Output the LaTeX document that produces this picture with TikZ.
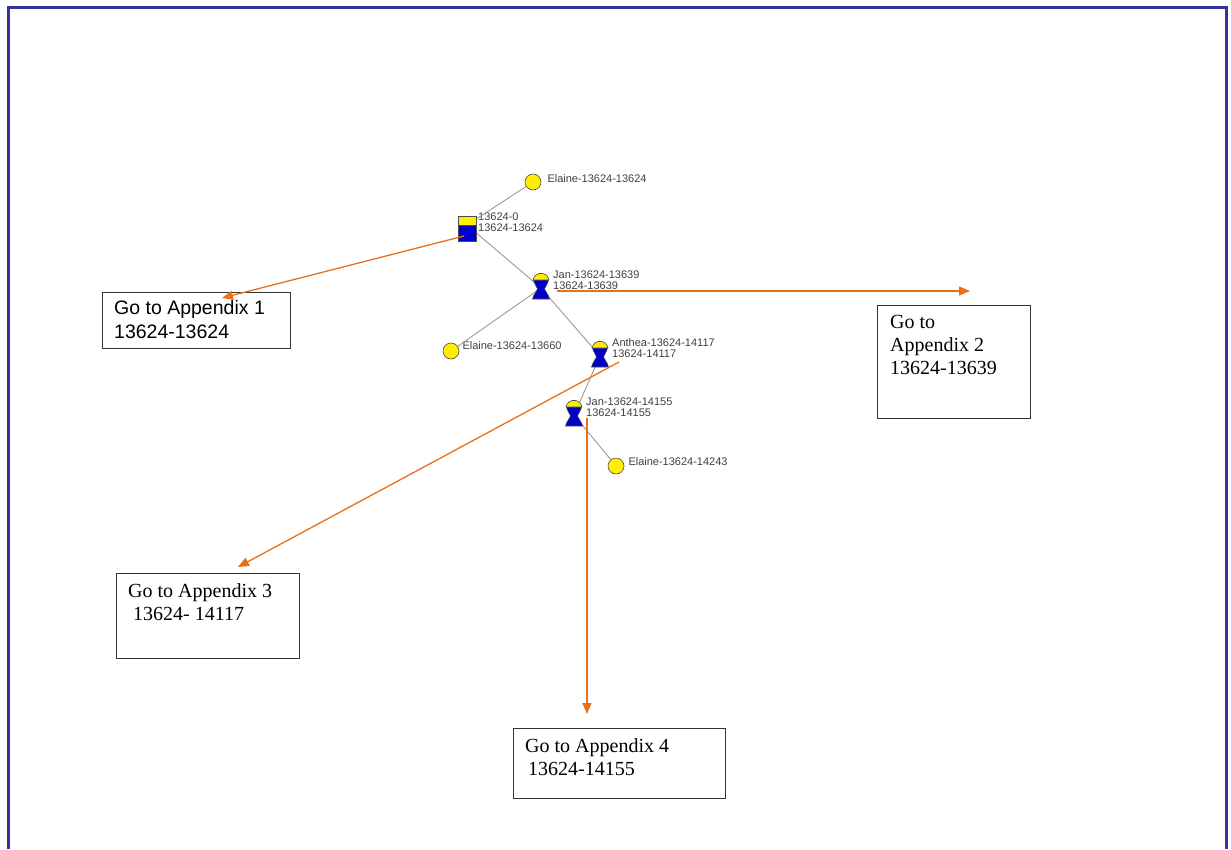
\documentclass[tikz,border=0pt]{standalone}
\usepackage{fontspec}
\setmainfont{Liberation Serif}
\setsansfont{Liberation Sans}
\usetikzlibrary{positioning}
\usetikzlibrary{arrows.meta}

\definecolor{framebl}{RGB}{51,51,153}
\definecolor{linkor}{RGB}{232,112,26}
\definecolor{icony}{RGB}{255,238,0}
\definecolor{iconb}{RGB}{0,0,200}

\begin{document}
\begin{tikzpicture}[x=1pt, y=-1pt,
    person/.style={circle, draw=black!70, fill=icony, line width=0.6pt, minimum size=16pt, inner sep=0pt},
    tag/.style={font=\sffamily\fontsize{11}{11}\selectfont, text=black!75, align=left, inner sep=0pt, anchor=west},
    link/.style={draw=black!40, line width=0.9pt},
    jump/.style={draw=linkor, line width=1.3pt, -{Triangle[length=11pt, width=9pt]}},
    appbox/.style={draw=black!80, line width=1.2pt, inner sep=0pt, anchor=north west},
    apptext/.style={align=left, inner sep=0pt},
    member/.pic={
      \filldraw[fill=iconb, draw=black!70, line width=0.6pt] (-7.5,-9) -- (7.5,-9) -- (7,-6) -- (3.5,1) -- (7.5,8) -- (8.5,11) -- (-8.5,11) -- (-7.5,8) -- (-3.5,1) -- (-7,-6) -- cycle;
      \filldraw[fill=icony, draw=black!70, line width=0.6pt] (-8,-8) arc (190:350:8.1) -- cycle;
    },
    origin/.pic={
      \filldraw[fill=icony, draw=black!70, line width=0.6pt] (-9,-9) rectangle (9,0);
      \filldraw[fill=iconb, draw=black!70, line width=0.6pt] (-9,0) rectangle (9,16);
    }]
    \useasboundingbox (0,0) rectangle (1231,849);
    \draw[framebl, line width=3pt] (8.5,849) -- (8.5,7.5) -- (1226.5,7.5) -- (1226.5,849);

    \coordinate (root) at (467,225);
    \coordinate (jan1) at (541,288);
    \coordinate (anthea) at (600,356);
    \coordinate (jan2) at (574,415);

    \node[person] (elaine1) at (533,182) {};
    \node[person] (elaine2) at (451,351) {};
    \node[person] (elaine3) at (616,466) {};

    \node[tag, right=6pt of elaine1, yshift=3pt] (elaine1tag) {Elaine-13624-13624};
    \node[tag] (roottag) at (478,222) {13624-0\\13624-13624};
    \node[tag] (jan1tag) at (553,280) {Jan-13624-13639\\13624-13639};
    \node[tag, right=3pt of elaine2, yshift=5pt] (elaine2tag) {Elaine-13624-13660};
    \node[tag] (antheatag) at (612,348) {Anthea-13624-14117\\13624-14117};
    \node[tag] (jan2tag) at (586,407) {Jan-13624-14155\\13624-14155};
    \node[tag, right=4pt of elaine3, yshift=4pt] (elaine3tag) {Elaine-13624-14243};

    \node[appbox, minimum width=188pt, minimum height=56pt] (box1) at (102,292) {};
    \node[appbox, minimum width=153pt, minimum height=113pt] (box2) at (877,305) {};
    \node[appbox, minimum width=183pt, minimum height=85pt] (box3) at (116,573) {};
    \node[appbox, minimum width=212pt, minimum height=70pt] (box4) at (513,728) {};

    \node[apptext, font=\sffamily\fontsize{19.5}{24}\selectfont, below right=8pt and 12pt of box1.north west] (box1text) {Go to Appendix 1\\13624-13624};
    \node[apptext, font=\fontsize{20}{23}\selectfont, below right=10pt and 13pt of box2.north west] (box2text) {Go to\\Appendix 2\\13624-13639};
    \node[apptext, font=\fontsize{20}{23}\selectfont, below right=10pt and 12pt of box3.north west] (box3text) {Go to Appendix 3\\\hspace*{5pt}13624- 14117};
    \node[apptext, font=\fontsize{20}{23}\selectfont, below right=10pt and 12pt of box4.north west] (box4text) {Go to Appendix 4\\\hspace*{3pt}13624-14155};

    \coordinate (rootout) at (464,236);
    \coordinate (jan1out) at (557,291);
    \coordinate (antheaout) at (619,362);
    \coordinate (jan2out) at (587,418);
    \coordinate (app1) at (222,298);
    \coordinate (app2) at (970,291);
    \coordinate (app3) at (238,567);
    \coordinate (app4) at (587,714);

    \draw[link] (elaine1) -- (root);
    \draw[link] (root) -- (jan1);
    \draw[link] (jan1) -- (elaine2);
    \draw[link] (jan1) -- (anthea);
    \draw[link] (anthea) -- (jan2);
    \draw[link] (jan2) -- (elaine3);

    \pic at (root) {origin};
    \pic at (jan1) {member};
    \pic at (anthea) {member};
    \pic at (jan2) {member};

    \draw[jump] (rootout) -- (app1);
    \draw[jump] (jan1out) -- (app2);
    \draw[jump] (antheaout) -- (app3);
    \draw[jump] (jan2out) -- (app4);
\end{tikzpicture}
\end{document}
